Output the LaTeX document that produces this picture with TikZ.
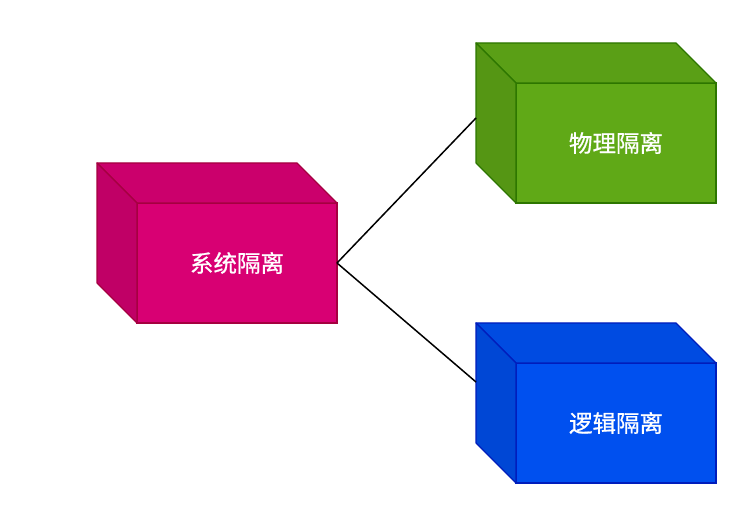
\documentclass[tikz,border=0pt]{standalone}
\usepackage{fontspec}
\newfontfamily\cjk[UprightFeatures={FakeBold=0.8}]{Noto Sans CJK SC}
\usepackage{tikz}
\usetikzlibrary{calc}

\definecolor{sysfill}{HTML}{D80073}
\definecolor{sysline}{HTML}{A50040}
\definecolor{physfill}{HTML}{60A917}
\definecolor{physline}{HTML}{2D7600}
\definecolor{logfill}{HTML}{0050EF}
\definecolor{logline}{HTML}{001DBC}

\tikzset{
  front/.style={draw=#1line, fill=#1fill, line width=1.2pt, minimum width=200pt,
    minimum height=120pt, inner sep=0pt, outer sep=0pt, text=white,
    font=\cjk\fontsize{23.5}{28}\selectfont},
  link/.style={line width=1.5pt}
}

% top and left faces of a box: node, colour prefix
\newcommand{\boxfaces}[2]{%
  \draw[draw=#2line, fill=#2fill!94!black, line width=1.2pt, line join=round] (#1.north west) -- ++(-40,40)
    -- ($(#1.north east)+(-40,40)$) -- (#1.north east) -- cycle;
  \draw[draw=#2line, fill=#2fill!89!black, line width=1.2pt, line join=round] (#1.north west) -- ++(-40,40)
    -- ($(#1.south west)+(-40,40)$) -- (#1.south west) -- cycle;
}

\begin{document}
\begin{tikzpicture}[x=1pt,y=1pt]
    \useasboundingbox (0,0) rectangle (749,505);

    \node[front=sys] (sys) at (237,242) {\raisebox{-2pt}{系统隔离}};
    \node[front=phys] (phys) at (616,362) {\raisebox{-2pt}{物理隔离}};
    \node[front=log] (logic) at (616,82) {\raisebox{-2pt}{逻辑隔离}};

    \boxfaces{sys}{sys}
    \boxfaces{phys}{phys}
    \boxfaces{logic}{log}

    \coordinate (physin) at ($(phys.west)+(-40,25)$);
    \coordinate (login) at ($(logic.west)+(-40,41)$);
    \draw[link] (sys.east) -- (physin);
    \draw[link] (sys.east) -- (login);
\end{tikzpicture}
\end{document}
